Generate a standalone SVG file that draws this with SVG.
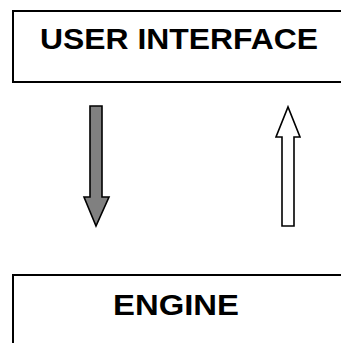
<svg xmlns="http://www.w3.org/2000/svg" width="341" height="343" viewBox="0 0 341 343">
  <style>
    .box { fill: #ffffff; stroke: #000000; stroke-width: 2; }
    .label { font-family: "Liberation Sans", Arial, sans-serif; font-weight: bold; font-size: 29px; fill: #000000; }
    .arrow { stroke: #000000; stroke-width: 1.6; stroke-linejoin: miter; }
  </style>
  <rect width="341" height="343" fill="#ffffff"/>
  <g id="user-interface">
    <rect class="box" x="13" y="11" width="340" height="71"/>
    <text class="label" x="40" y="49" textLength="278" lengthAdjust="spacingAndGlyphs">USER INTERFACE</text>
  </g>
  <g id="engine">
    <rect class="box" x="13" y="275" width="340" height="80"/>
    <text class="label" x="113" y="315" textLength="126" lengthAdjust="spacingAndGlyphs">ENGINE</text>
  </g>
  <g id="connectors">
    <!-- request: downward, grey filled -->
    <path class="arrow" fill="#808080" d="M90,106 H102 V197 H109 L96,226 L84,197 H90 Z"/>
    <!-- response: upward, hollow -->
    <path class="arrow" fill="#ffffff" d="M282,226 H294 V137 H300 L288,107 L276,137 H282 Z"/>
  </g>
</svg>
